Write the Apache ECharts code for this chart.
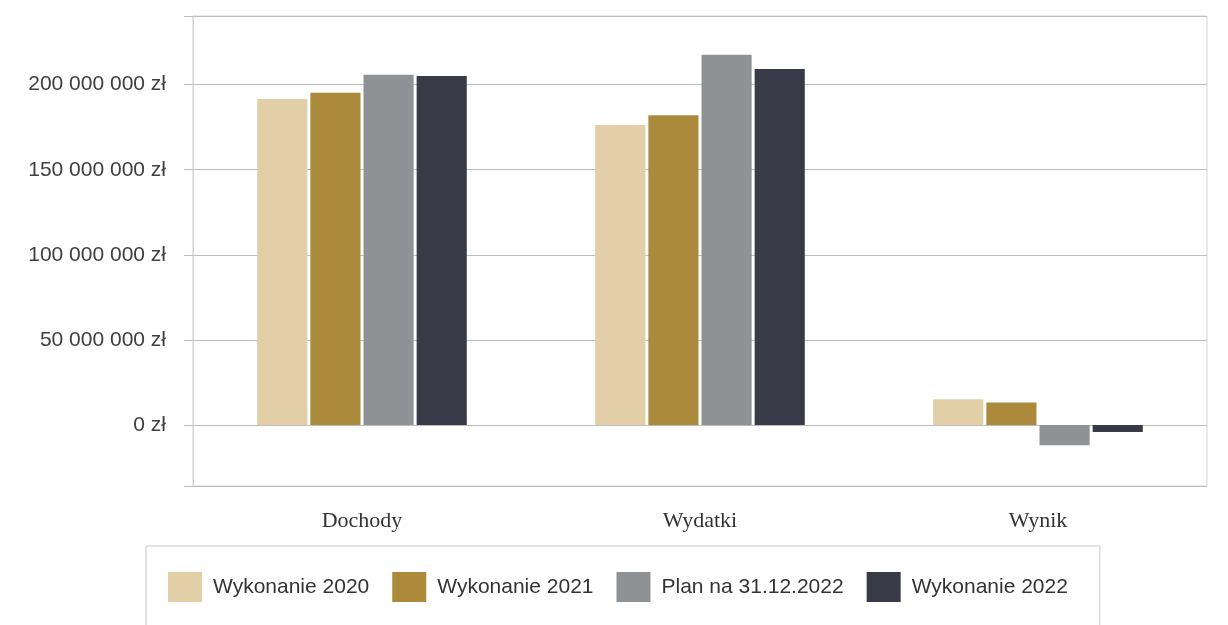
<!DOCTYPE html>
<html>
<head>
<meta charset="utf-8">
<script src="https://cdn.jsdelivr.net/npm/echarts@6/dist/echarts.min.js"></script>
<style>
html,body{margin:0;padding:0;background:#fff;}
#chart{width:1228px;height:625px;}
</style>
</head>
<body>
<div id="chart"></div>
<script>
const categories = ['Dochody', 'Wydatki', 'Wynik'];
const seriesNames = ['Wykonanie 2020', 'Wykonanie 2021', 'Plan na 31.12.2022', 'Wykonanie 2022'];
const wyk2020 = [191.5e6, 176.3e6, 15.2e6];
const wyk2021 = [195.2e6, 182.0e6, 13.2e6];
const plan2022 = [205.8e6, 217.6e6, -11.8e6];
const wyk2022 = [205.1e6, 209.2e6, -4.1e6];
const colors = ['#e2cfa8', '#ab8a3c', '#8e9294', '#383b47'];

const seriesData = [wyk2020, wyk2021, plan2022, wyk2022];

function fmt(v) {
  if (Math.abs(v % 50e6) > 1) return '';
  return Math.round(v).toString().replace(/\B(?=(\d{3})+(?!\d))/g, ' ') + ' zł';
}

const chart = echarts.init(document.getElementById('chart'));
chart.setOption({
  animation: false,
  color: colors,
  grid: {
    left: 193, right: 21, top: 16, bottom: 139,
    show: true, borderColor: '#d4d4d4', borderWidth: 1
  },
  legend: {
    left: 146, top: 546,
    padding: [26, 32, 40, 22],
    borderColor: '#c8c8c8', borderWidth: 1,
    itemWidth: 34, itemHeight: 30, itemGap: 23,
    icon: 'rect',
    textStyle: { fontFamily: 'Liberation Sans', fontSize: 21, color: '#333', padding: [0, 0, 0, 6] },
    data: seriesNames
  },
  xAxis: {
    type: 'category',
    data: categories,
    axisLine: { show: false },
    axisTick: { show: false },
    axisLabel: { fontFamily: 'Liberation Serif', fontSize: 22, color: '#333', margin: 24 }
  },
  yAxis: {
    type: 'value',
    min: -35.8e6,
    max: 240.3e6,
    splitNumber: 5,
    axisLine: { show: true, lineStyle: { color: '#cfcfcf' } },
    axisTick: { show: true, length: 9, inside: false, lineStyle: { color: '#bdbdbd' } },
    splitLine: { show: true, lineStyle: { color: '#bdbdbd', width: 1 } },
    axisLabel: {
      formatter: fmt,
      fontFamily: 'Liberation Sans', fontSize: 21, color: '#404040', margin: 27,
      lineHeight: 21, padding: [8, 0, 0, 0]
    }
  },
  series: seriesNames.map((n, i) => ({
    name: n,
    type: 'bar',
    data: seriesData[i],
    barCategoryGap: '38%',
    barGap: '6%',
    itemStyle: { color: colors[i] }
  }))
});
</script>
</body>
</html>
